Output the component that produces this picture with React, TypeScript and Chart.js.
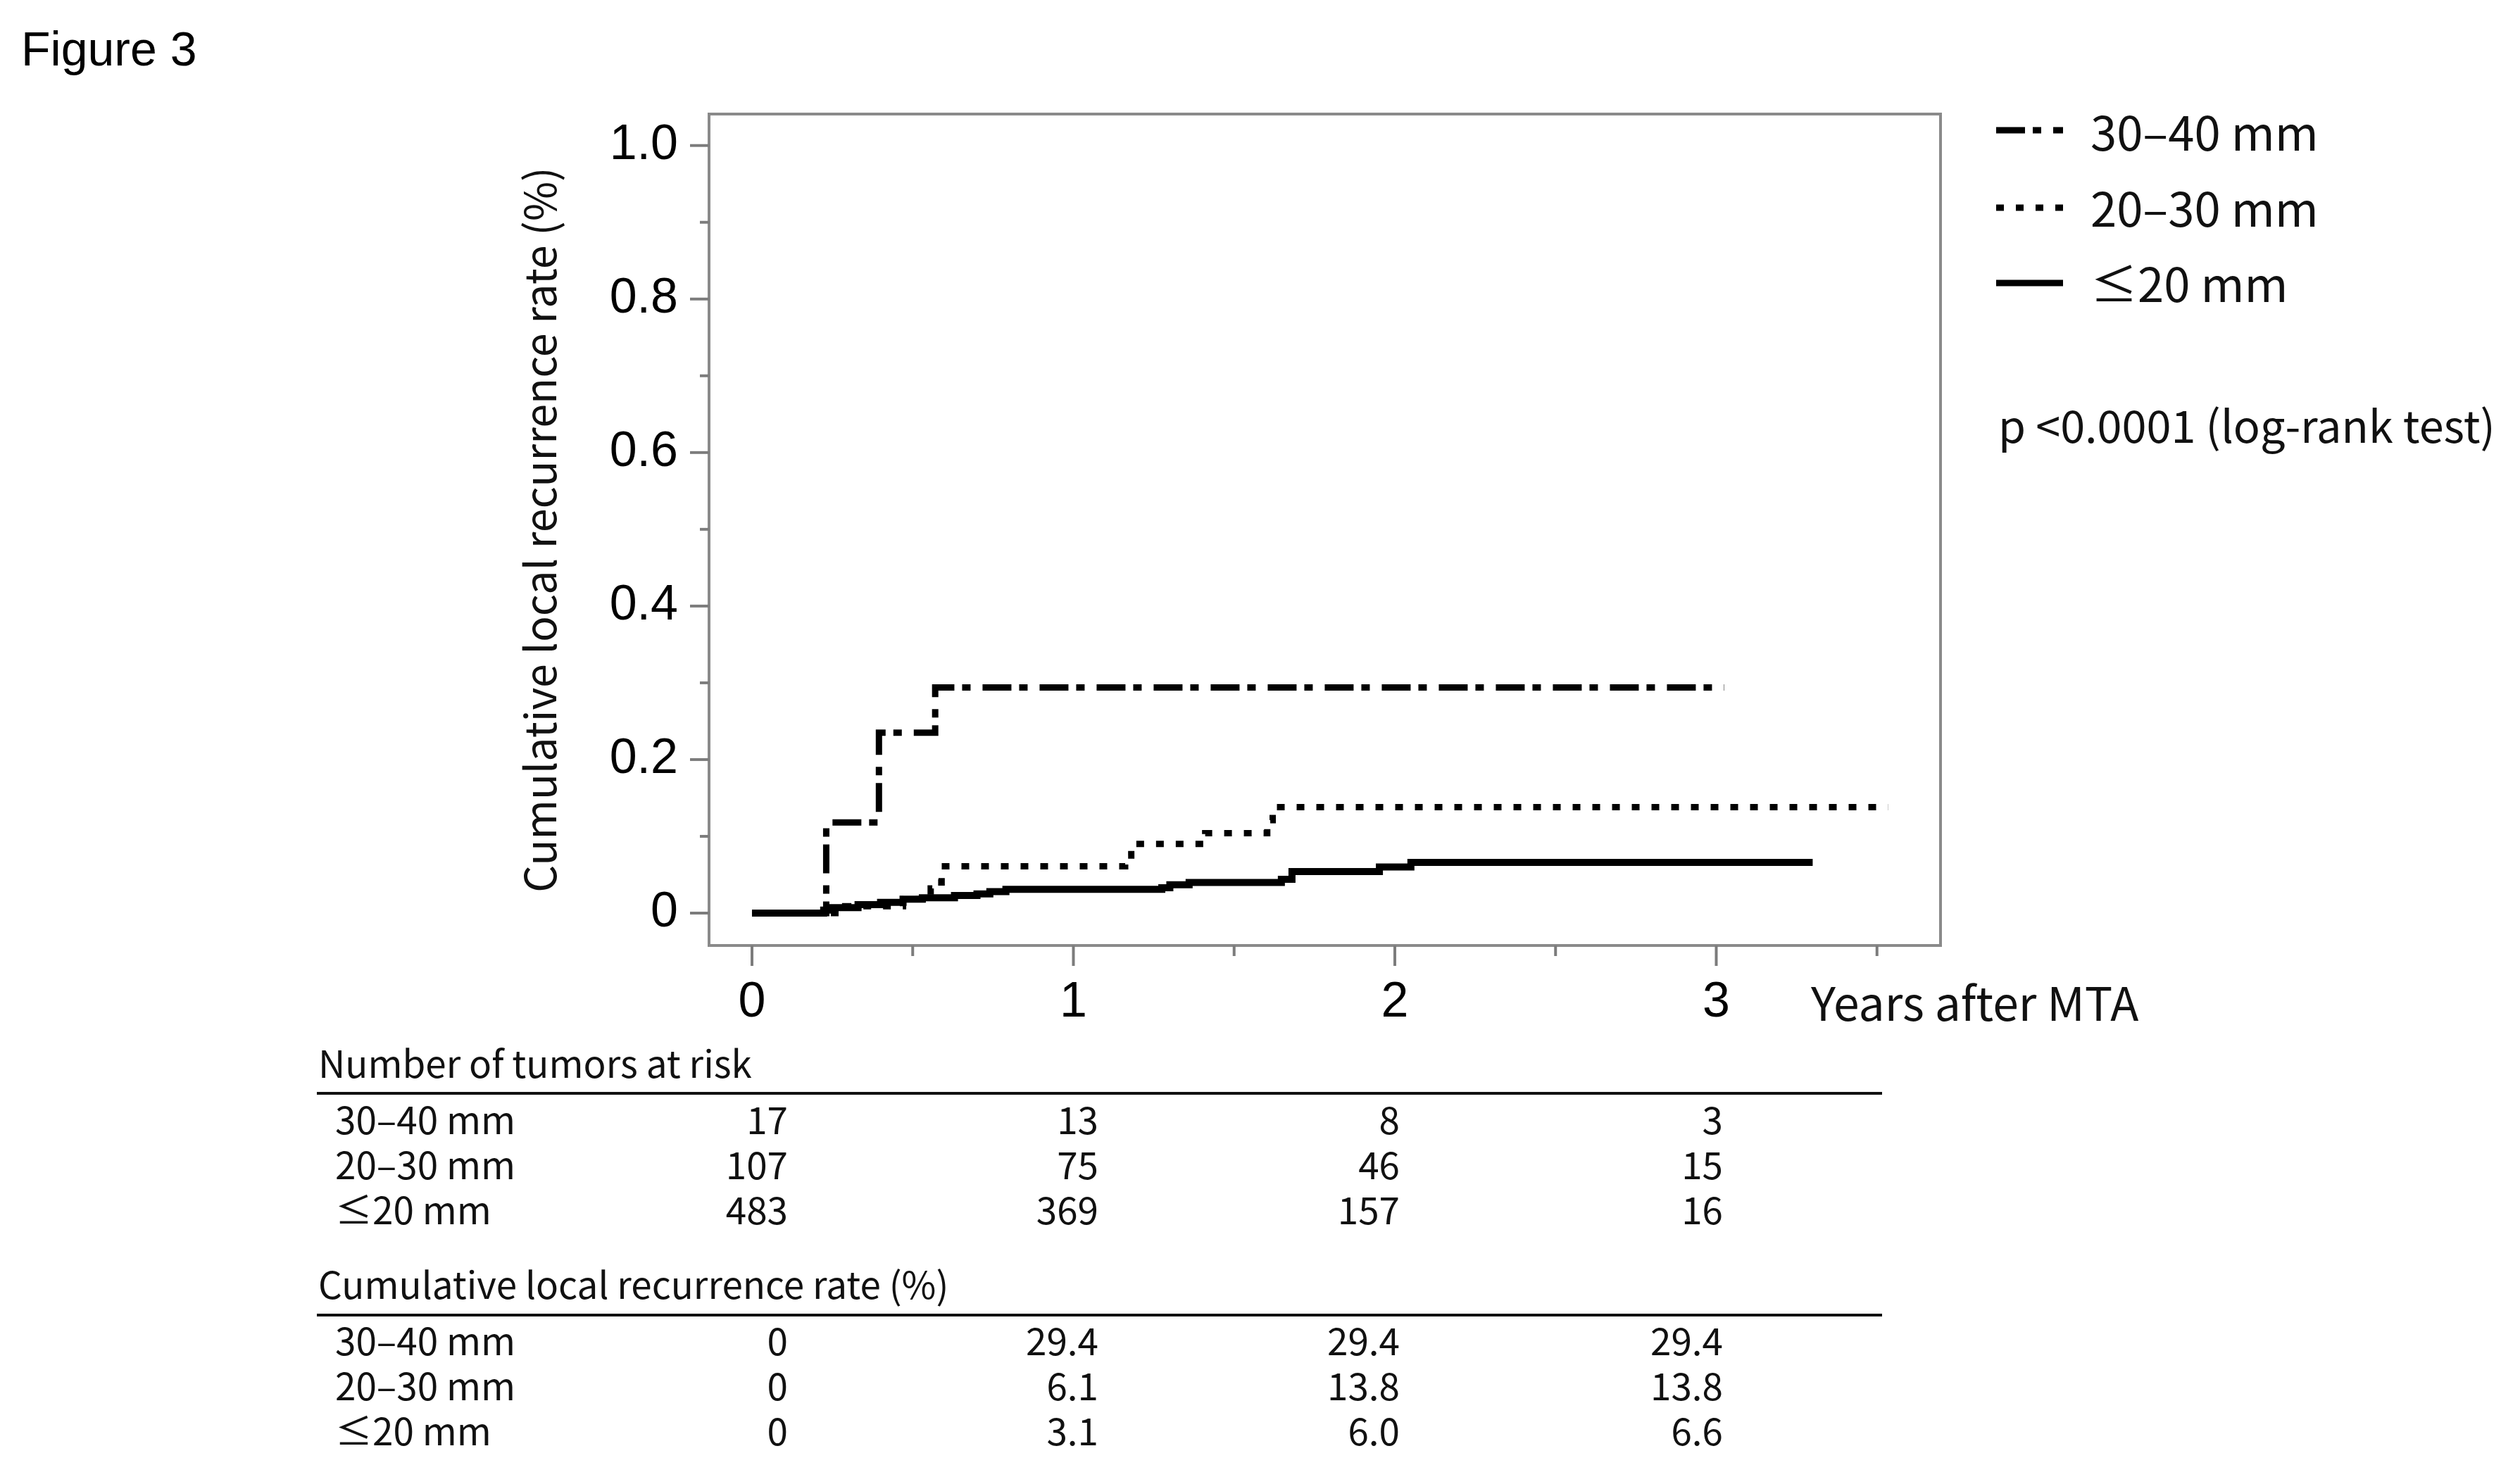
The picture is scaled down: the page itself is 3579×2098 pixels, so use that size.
import React, { useEffect, useRef } from 'react';
import { Chart, registerables } from 'chart.js';

Chart.register(...registerables);

// ---------- data ----------
const seriesLabels = ['30–40 mm', '20–30 mm', '≤20 mm'];

const years3040 = [0, 0.231, 0.395, 0.57, 3.025];
const rate3040 = [0, 0.118, 0.235, 0.294, 0.294];

const years2030 = [0, 0.29, 0.47, 0.556, 0.565, 0.59, 1.161, 1.18, 1.41, 1.603, 1.62, 3.535];
const rate2030 = [0, 0.009, 0.018, 0.032, 0.04, 0.061, 0.075, 0.09, 0.104, 0.121, 0.138, 0.138];

const years20 = [0, 0.223, 0.24, 0.33, 0.4, 0.47, 0.53, 0.63, 0.7, 0.74, 0.79, 1.275, 1.3, 1.36, 1.647, 1.68, 1.952, 2.05, 3.3];
const rate20 = [0, 0.004, 0.007, 0.011, 0.014, 0.018, 0.02, 0.023, 0.025, 0.028, 0.031, 0.033, 0.037, 0.04, 0.044, 0.054, 0.06, 0.066, 0.066];

const xTickValues = [0, 0.5, 1, 1.5, 2, 2.5, 3, 3.5];
const yTickValues = [0, 0.1, 0.2, 0.3, 0.4, 0.5, 0.6, 0.7, 0.8, 0.9, 1.0];

const riskGroups = ['30–40 mm', '20–30 mm', '≤20 mm'];
const atRisk3040 = ['17', '13', '8', '3'];
const atRisk2030 = ['107', '75', '46', '15'];
const atRisk20 = ['483', '369', '157', '16'];
const cumRate3040 = ['0', '29.4', '29.4', '29.4'];
const cumRate2030 = ['0', '6.1', '13.8', '13.8'];
const cumRate20 = ['0', '3.1', '6.0', '6.6'];

const figureTitle = 'Figure 3';
const yAxisTitle = 'Cumulative local recurrence rate (%)';
const xAxisTitle = 'Years after MTA';
const pValueText = 'p <0.0001 (log-rank test)';
const tableTitle1 = 'Number of tumors at risk';
const tableTitle2 = 'Cumulative local recurrence rate (%)';

// ---------- layout ----------
const W = 3579;
const H = 2098;
const AREA_LEFT = 1007;
const AREA_RIGHT = 2756;
const AREA_TOP = 162;
const AREA_BOTTOM = 1343;
const ARIAL = "'Liberation Sans', Arial, Helvetica, sans-serif";
const JP = "'Noto Sans CJK JP', 'Noto Sans', sans-serif";

const decorPlugin = {
  id: 'decor',
  afterDraw(chart: any) {
    const ctx: CanvasRenderingContext2D = chart.ctx;
    const { left, right, top, bottom } = chart.chartArea;
    const xs = chart.scales.x;
    const ys = chart.scales.y;
    ctx.save();

    // frame
    ctx.strokeStyle = '#8a8a8a';
    ctx.lineWidth = 4;
    ctx.setLineDash([]);
    ctx.strokeRect(left, top, right - left, bottom - top);

    // ticks
    ctx.strokeStyle = '#7c7c7c';
    ctx.lineWidth = 4;
    ys.ticks.forEach((t: any) => {
      const y = ys.getPixelForValue(t.value);
      const major = Math.round(t.value * 10) % 2 === 0;
      ctx.beginPath();
      ctx.moveTo(left, y);
      ctx.lineTo(left - (major ? 27 : 13), y);
      ctx.stroke();
    });
    xs.ticks.forEach((t: any) => {
      const x = xs.getPixelForValue(t.value);
      const major = Number.isInteger(t.value);
      ctx.beginPath();
      ctx.moveTo(x, bottom);
      ctx.lineTo(x, bottom + (major ? 29 : 15));
      ctx.stroke();
    });

    // figure title
    ctx.fillStyle = '#000';
    ctx.textAlign = 'left';
    ctx.textBaseline = 'alphabetic';
    ctx.font = `68px ${ARIAL}`;
    ctx.fillText(figureTitle, 30, 93);

    // x axis title
    ctx.font = `66px ${JP}`;
    ctx.fillStyle = '#111';
    ctx.fillText(xAxisTitle, 2572, 1450);

    // legend
    const legendLineY = [185, 295, 402];
    const legendTextY = [214, 322, 429];
    chart.data.datasets.forEach((ds: any, i: number) => {
      ctx.strokeStyle = ds.borderColor;
      ctx.lineWidth = 9;
      ctx.lineCap = 'butt';
      ctx.setLineDash(ds.borderDash || []);
      ctx.beginPath();
      ctx.moveTo(2835, legendLineY[i]);
      ctx.lineTo(2930, legendLineY[i]);
      ctx.stroke();
      ctx.setLineDash([]);
      ctx.fillStyle = '#111';
      ctx.font = `67px ${JP}`;
      ctx.fillText(ds.label, 2969, legendTextY[i]);
    });

    // p value
    ctx.font = `63px ${JP}`;
    ctx.fillText(pValueText, 2838, 629);

    // tables
    const colRight = [1119, 1560, 1988, 2447];
    const drawTable = (title: string, titleBase: number, ruleY: number, rowBase: number[], rows: string[][]) => {
      ctx.fillStyle = '#111';
      ctx.textAlign = 'left';
      ctx.font = `53px ${JP}`;
      ctx.fillText(title, 452, titleBase);
      ctx.strokeStyle = '#111';
      ctx.lineWidth = 4;
      ctx.beginPath();
      ctx.moveTo(450, ruleY);
      ctx.lineTo(2673, ruleY);
      ctx.stroke();
      rows.forEach((vals, r) => {
        ctx.textAlign = 'left';
        ctx.fillText(riskGroups[r], 476, rowBase[r]);
        ctx.textAlign = 'right';
        vals.forEach((v, c) => ctx.fillText(v, colRight[c], rowBase[r]));
      });
    };
    drawTable(tableTitle1, 1531, 1553, [1611, 1675, 1739], [atRisk3040, atRisk2030, atRisk20]);
    drawTable(tableTitle2, 1845, 1868, [1925, 1989, 2053], [cumRate3040, cumRate2030, cumRate20]);

    ctx.restore();
  },
};

const toPoints = (xs: number[], ys: number[]) => xs.map((x, i) => ({ x, y: ys[i] }));

export default function App() {
  const ref = useRef<HTMLCanvasElement>(null);
  useEffect(() => {
    const common = {
      stepped: 'before' as const,
      pointRadius: 0,
      borderColor: '#000',
      borderWidth: 9,
      borderCapStyle: 'butt' as const,
      fill: false,
      tension: 0,
    };
    const chart = new Chart(ref.current as HTMLCanvasElement, {
      type: 'line',
      data: {
        datasets: [
          { ...common, label: seriesLabels[0], data: toPoints(years3040, rate3040), borderDash: [41, 11, 12, 17], order: 2 },
          { ...common, label: seriesLabels[1], data: toPoints(years2030, rate2030), borderDash: [11, 17], order: 1 },
          { ...common, label: seriesLabels[2], data: toPoints(years20, rate20), borderWidth: 10, order: 0 },
        ] as any,
      },
      options: {
        responsive: true,
        maintainAspectRatio: false,
        animation: false,
        layout: { padding: { left: 0, top: AREA_TOP, right: W - AREA_RIGHT, bottom: 0 } },
        plugins: { legend: { display: false }, tooltip: { enabled: false }, title: { display: false } },
        scales: {
          x: {
            type: 'linear',
            min: -0.1336,
            max: 3.6977,
            afterBuildTicks: (s: any) => { s.ticks = xTickValues.map((v) => ({ value: v })); },
            afterFit: (s: any) => { s.height = H - AREA_BOTTOM; },
            grid: { display: false, drawTicks: false },
            border: { display: false },
            ticks: {
              autoSkip: false,
              maxRotation: 0,
              minRotation: 0,
              padding: 40,
              color: '#000',
              font: { family: ARIAL, size: 70, weight: 'normal' },
              callback: (v: any) => (Number.isInteger(v) ? String(v) : ''),
            },
          },
          y: {
            type: 'linear',
            min: -0.0422,
            max: 1.041,
            afterBuildTicks: (s: any) => { s.ticks = yTickValues.map((v) => ({ value: v })); },
            afterFit: (s: any) => { s.width = AREA_LEFT; },
            grid: { display: false, drawTicks: false },
            border: { display: false },
            title: {
              display: true,
              text: yAxisTitle,
              color: '#111',
              font: { family: JP, size: 61, weight: 'normal' },
              padding: { top: 730, bottom: 0 },
            },
            ticks: {
              autoSkip: false,
              padding: 44,
              color: '#000',
              font: { family: ARIAL, size: 70 },
              callback: (v: any) => {
                const k = Math.round(v * 10);
                if (k % 2 !== 0) return '';
                return k === 0 ? '0' : (k / 10).toFixed(1);
              },
            },
          },
        },
      } as any,
      plugins: [decorPlugin],
    });
    return () => chart.destroy();
  }, []);
  return (
    <div style={{ position: 'absolute', left: 0, top: 0, width: W, height: H, background: '#fff' }}>
      <canvas ref={ref} />
    </div>
  );
}
